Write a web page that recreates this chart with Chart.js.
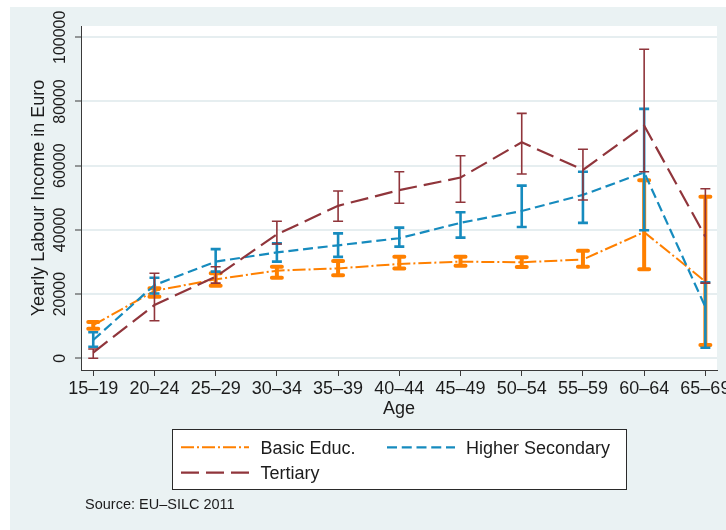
<!DOCTYPE html>
<html>
<head>
<meta charset="utf-8">
<script src="https://cdn.jsdelivr.net/npm/chart.js@4/dist/chart.umd.min.js"></script>
<style>
  html, body { margin: 0; padding: 0; background: #ffffff; }
  canvas { display: block; }
</style>
</head>
<body>
<canvas id="chart" width="726" height="530"></canvas>
<script>
// Age groups on the horizontal axis
const ageGroups = ['15–19', '20–24', '25–29', '30–34', '35–39', '40–44',
                   '45–49', '50–54', '55–59', '60–64', '65–69'];

// Vertical axis tick values
const incomeTicks = [0, 20000, 40000, 60000, 80000, 100000];

// Basic education: mean yearly labour income with 95% confidence bounds
const basicMean = [10300, 21000, 24600, 27300, 28000, 29400, 30100, 29900, 30800, 39300, 23900];
const basicLow  = [ 9200, 19200, 22600, 25100, 25900, 28000, 28800, 28400, 28500, 27700,  4100];
const basicHigh = [11300, 21800, 26500, 28500, 30300, 31600, 31600, 31500, 33500, 55500, 50300];

// Higher secondary education
const secondaryMean = [5700, 22800, 30100, 33000, 35200, 37400, 42200, 45900, 50900, 57900, 16000];
const secondaryLow  = [3600, 20200, 27000, 30100, 31600, 34800, 37600, 40900, 42200, 39900,  3300];
const secondaryHigh = [8100, 25100, 34000, 35800, 38900, 40700, 45500, 53800, 58100, 77700, 23700];

// Tertiary education
const tertiaryMean = [1800, 16600, 25400, 38600, 47500, 52400, 56300, 67300, 58700, 72500, 37900];
const tertiaryLow  = [   0, 11700, 23400, 35600, 42700, 48300, 48600, 57400, 49300, 58100, 23400];
const tertiaryHigh = [2900, 26500, 28500, 42700, 52100, 58100, 63100, 76300, 65100, 96300, 52800];

const seriesNames = ['Basic Educ.', 'Higher Secondary', 'Tertiary'];
const xTitle = 'Age';
const yTitle = 'Yearly Labour Income in Euro';
const sourceNote = 'Source: EU–SILC 2011';

const FONT = "'Liberation Sans', Arial, Helvetica, sans-serif";
const INK = '#1c1c1c';
const AXIS = '#3a3a3a';
const REGION = '#eaf2f3';

function toPoints(values) {
  return values.map((v, i) => ({ x: i, y: v }));
}

// Page and plot region backgrounds
const backgroundPlugin = {
  id: 'regions',
  beforeDraw(chart) {
    const { ctx, chartArea: a } = chart;
    ctx.save();
    ctx.fillStyle = '#ffffff';
    ctx.fillRect(0, 0, chart.width, chart.height);
    ctx.fillStyle = REGION;
    ctx.fillRect(10, 7, chart.width - 10, chart.height - 7);
    ctx.fillStyle = '#ffffff';
    ctx.fillRect(a.left, a.top, a.right - a.left, a.bottom - a.top);
    ctx.restore();
  }
};

// Confidence-interval bars with end caps, drawn after each series line
const errorBarPlugin = {
  id: 'errorBars',
  afterDatasetDraw(chart, args) {
    const ds = chart.data.datasets[args.index];
    if (!ds.ciLow) return;
    const { ctx } = chart;
    const xs = chart.scales.x, ys = chart.scales.y;
    ctx.save();
    ctx.strokeStyle = ds.borderColor;
    ctx.lineWidth = ds.ciWidth;
    ctx.lineCap = ds.ciCap;
    ctx.setLineDash([]);
    ds.ciLow.forEach((lo, i) => {
      const x = xs.getPixelForValue(i);
      const y1 = ys.getPixelForValue(lo);
      const y2 = ys.getPixelForValue(ds.ciHigh[i]);
      const h = ds.capHalf;
      ctx.beginPath();
      ctx.moveTo(x, y1); ctx.lineTo(x, y2);
      ctx.moveTo(x - h, y1); ctx.lineTo(x + h, y1);
      ctx.moveTo(x - h, y2); ctx.lineTo(x + h, y2);
      ctx.stroke();
    });
    ctx.restore();
  }
};

// Tick labels, axis titles, legend box and source note
const textPlugin = {
  id: 'texts',
  afterDraw(chart) {
    const { ctx, chartArea: a } = chart;
    const xs = chart.scales.x, ys = chart.scales.y;
    ctx.save();
    ctx.fillStyle = INK;

    // vertical axis labels, rotated
    ctx.font = '16px ' + FONT;
    ctx.textAlign = 'center';
    ctx.textBaseline = 'alphabetic';
    incomeTicks.forEach(v => {
      ctx.save();
      ctx.translate(a.left - 16, ys.getPixelForValue(v));
      ctx.rotate(-Math.PI / 2);
      ctx.fillText(String(v), 0, 0);
      ctx.restore();
    });

    ctx.font = '18px ' + FONT;
    ctx.save();
    ctx.translate(a.left - 37.5, (a.top + a.bottom) / 2);
    ctx.rotate(-Math.PI / 2);
    ctx.fillText(yTitle, 0, 0);
    ctx.restore();

    // horizontal axis labels
    ctx.font = '18px ' + FONT;
    ageGroups.forEach((g, i) => {
      ctx.fillText(g, xs.getPixelForValue(i), a.bottom + 23.8);
    });
    ctx.font = '18px ' + FONT;
    ctx.fillText(xTitle, (a.left + a.right) / 2, a.bottom + 44);

    // legend
    const box = { x: 172.5, y: 429.5, w: 454, h: 60 };
    ctx.fillStyle = '#ffffff';
    ctx.fillRect(box.x, box.y, box.w, box.h);
    ctx.strokeStyle = '#2a2a2a';
    ctx.lineWidth = 1;
    ctx.strokeRect(box.x, box.y, box.w, box.h);

    const slots = [
      { x: 181, y: 447.3, tx: 260.5 },
      { x: 387, y: 447.3, tx: 466 },
      { x: 181, y: 472.7, tx: 260.5 }
    ];
    ctx.font = '18px ' + FONT;
    ctx.textAlign = 'left';
    chart.data.datasets.forEach((ds, i) => {
      const s = slots[i];
      ctx.save();
      ctx.strokeStyle = ds.borderColor;
      ctx.lineWidth = ds.borderWidth;
      ctx.setLineDash(ds.borderDash);
      ctx.beginPath();
      ctx.moveTo(s.x, s.y);
      ctx.lineTo(s.x + 68, s.y);
      ctx.stroke();
      ctx.restore();
      ctx.fillStyle = INK;
      ctx.fillText(ds.label, s.tx, s.y + 6.4);
    });

    ctx.font = '14.5px ' + FONT;
    ctx.fillText(sourceNote, 85, 509);
    ctx.restore();
  }
};

const chart = new Chart(document.getElementById('chart'), {
  type: 'line',
  data: {
    datasets: [
      {
        label: seriesNames[0],
        data: toPoints(basicMean),
        ciLow: basicLow, ciHigh: basicHigh,
        borderColor: '#ff8000',
        borderWidth: 2,
        borderDash: [13, 3, 2, 3],
        ciWidth: 4, ciCap: 'round', capHalf: 5,
        order: 2
      },
      {
        label: seriesNames[1],
        data: toPoints(secondaryMean),
        ciLow: secondaryLow, ciHigh: secondaryHigh,
        borderColor: '#168bbe',
        borderWidth: 2.2,
        borderDash: [10, 4.75],
        ciWidth: 2.6, ciCap: 'butt', capHalf: 5,
        order: 1
      },
      {
        label: seriesNames[2],
        data: toPoints(tertiaryMean),
        ciLow: tertiaryLow, ciHigh: tertiaryHigh,
        borderColor: '#90353b',
        borderWidth: 2.2,
        borderDash: [18, 7],
        ciWidth: 1.6, ciCap: 'butt', capHalf: 5,
        order: 0
      }
    ]
  },
  options: {
    responsive: false,
    animation: false,
    devicePixelRatio: 1,
    layout: { padding: { top: 26, right: 9, left: 0, bottom: 0 } },
    elements: {
      point: { radius: 0, hoverRadius: 0 },
      line: { tension: 0, fill: false }
    },
    plugins: {
      legend: { display: false },
      tooltip: { enabled: false },
      title: { display: false }
    },
    scales: {
      x: {
        type: 'linear',
        min: -0.2,
        max: 10.19,
        afterBuildTicks: s => { s.ticks = ageGroups.map((_, i) => ({ value: i })); },
        afterFit: s => { s.height = 160; },
        ticks: { display: false },
        grid: {
          drawOnChartArea: false,
          drawTicks: true,
          tickLength: 6,
          tickColor: AXIS,
          tickWidth: 1
        },
        border: { display: true, color: AXIS, width: 1 }
      },
      y: {
        type: 'linear',
        min: -3650,
        max: 103520,
        afterBuildTicks: s => { s.ticks = incomeTicks.map(v => ({ value: v })); },
        afterFit: s => { s.width = 81; },
        ticks: { display: false },
        grid: {
          color: '#e6eef0',
          lineWidth: 2,
          drawTicks: true,
          tickLength: 6,
          tickColor: AXIS,
          tickWidth: 1
        },
        border: { display: true, color: AXIS, width: 1 }
      }
    }
  },
  plugins: [backgroundPlugin, errorBarPlugin, textPlugin]
});
</script>
</body>
</html>
